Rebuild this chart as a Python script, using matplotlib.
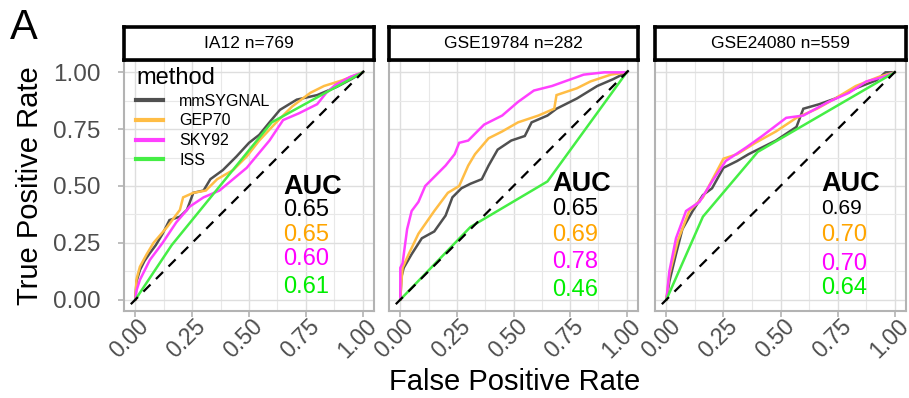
import matplotlib
matplotlib.use("Agg")
import matplotlib.pyplot as plt
from matplotlib.transforms import ScaledTranslation

plt.rcParams['font.family'] = ['Liberation Sans', 'DejaVu Sans']

# ---- data ----
methods = ["mmSYGNAL", "GEP70", "SKY92", "ISS"]
panel_titles = ["IA12 n=769", "GSE19784 n=282", "GSE24080 n=559"]

# IA12
ia12_mmsygnal_fpr = [0, 0.005, 0.02, 0.04, 0.064, 0.09, 0.12, 0.15, 0.196, 0.227, 0.255, 0.30, 0.33, 0.385, 0.445, 0.50, 0.545, 0.59, 0.636, 0.71, 0.80, 0.886, 0.95, 1.0]
ia12_mmsygnal_tpr = [0, 0.08, 0.13, 0.17, 0.205, 0.24, 0.29, 0.35, 0.365, 0.395, 0.47, 0.48, 0.53, 0.57, 0.63, 0.69, 0.725, 0.78, 0.835, 0.88, 0.90, 0.936, 0.97, 1.0]
ia12_gep70_fpr = [0, 0.005, 0.02, 0.05, 0.08, 0.14, 0.196, 0.21, 0.255, 0.31, 0.36, 0.43, 0.49, 0.545, 0.62, 0.69, 0.77, 0.83, 0.91, 1.0]
ia12_gep70_tpr = [0, 0.09, 0.145, 0.20, 0.25, 0.32, 0.395, 0.45, 0.47, 0.48, 0.53, 0.57, 0.63, 0.70, 0.78, 0.85, 0.91, 0.94, 0.965, 1.0]
ia12_sky92_fpr = [0, 0.005, 0.02, 0.064, 0.12, 0.18, 0.24, 0.30, 0.37, 0.43, 0.49, 0.54, 0.59, 0.65, 0.72, 0.80, 0.84, 0.88, 0.945, 1.0]
ia12_sky92_tpr = [0, 0.04, 0.087, 0.175, 0.25, 0.34, 0.41, 0.45, 0.48, 0.53, 0.58, 0.64, 0.70, 0.79, 0.82, 0.86, 0.91, 0.945, 0.98, 1.0]
ia12_iss_fpr = [0, 0.16, 0.60, 1.0]
ia12_iss_tpr = [0, 0.24, 0.78, 1.0]
ia12_auc = ["0.65", "0.65", "0.60", "0.61"]

# GSE19784
gse19784_mmsygnal_fpr = [0, 0.005, 0.015, 0.05, 0.095, 0.15, 0.20, 0.23, 0.27, 0.31, 0.36, 0.39, 0.43, 0.49, 0.55, 0.58, 0.65, 0.69, 0.78, 0.87, 0.94, 1.0]
gse19784_mmsygnal_tpr = [0, 0.10, 0.14, 0.20, 0.27, 0.30, 0.37, 0.45, 0.49, 0.51, 0.53, 0.59, 0.66, 0.70, 0.72, 0.78, 0.81, 0.84, 0.885, 0.94, 0.97, 1.0]
gse19784_gep70_fpr = [0, 0.005, 0.01, 0.037, 0.08, 0.15, 0.21, 0.26, 0.30, 0.33, 0.39, 0.45, 0.52, 0.61, 0.68, 0.69, 0.78, 0.84, 0.93, 1.0]
gse19784_gep70_tpr = [0, 0.08, 0.14, 0.20, 0.29, 0.39, 0.47, 0.50, 0.59, 0.64, 0.71, 0.74, 0.78, 0.81, 0.84, 0.90, 0.93, 0.96, 0.99, 1.0]
gse19784_sky92_fpr = [0, 0, 0.01, 0.03, 0.05, 0.08, 0.11, 0.14, 0.2, 0.24, 0.26, 0.30, 0.37, 0.45, 0.52, 0.59, 0.67, 0.74, 0.81, 0.90, 1.0]
gse19784_sky92_tpr = [0, 0.14, 0.16, 0.31, 0.39, 0.43, 0.50, 0.53, 0.59, 0.64, 0.69, 0.70, 0.77, 0.81, 0.87, 0.92, 0.94, 0.965, 0.99, 1.0, 1.0]
gse19784_iss_fpr = [0, 0.31, 0.65, 1.0]
gse19784_iss_tpr = [0, 0.32, 0.52, 1.0]
gse19784_auc = ["0.65", "0.69", "0.78", "0.46"]

# GSE24080
gse24080_mmsygnal_fpr = [0, 0.013, 0.042, 0.07, 0.115, 0.16, 0.20, 0.25, 0.31, 0.36, 0.42, 0.48, 0.57, 0.60, 0.67, 0.74, 0.83, 0.92, 0.96, 1.0]
gse24080_mmsygnal_tpr = [0, 0.08, 0.20, 0.31, 0.39, 0.46, 0.49, 0.58, 0.61, 0.64, 0.67, 0.70, 0.76, 0.84, 0.86, 0.885, 0.93, 0.965, 1.0, 1.0]
gse24080_gep70_fpr = [0, 0.013, 0.05, 0.10, 0.16, 0.25, 0.31, 0.39, 0.48, 0.57, 0.66, 0.74, 0.83, 0.93, 1.0]
gse24080_gep70_tpr = [0, 0.11, 0.26, 0.39, 0.45, 0.62, 0.64, 0.69, 0.74, 0.80, 0.84, 0.885, 0.94, 0.98, 1.0]
gse24080_sky92_fpr = [0, 0.013, 0.042, 0.086, 0.145, 0.20, 0.26, 0.35, 0.42, 0.525, 0.60, 0.71, 0.80, 0.876, 0.95, 1.0]
gse24080_sky92_tpr = [0, 0.125, 0.27, 0.39, 0.43, 0.52, 0.61, 0.67, 0.72, 0.80, 0.81, 0.87, 0.91, 0.96, 0.98, 1.0]
gse24080_iss_fpr = [0, 0.16, 0.40, 1.0]
gse24080_iss_tpr = [0, 0.365, 0.65, 1.0]
gse24080_auc = ["0.69", "0.70", "0.70", "0.64"]

ticks = [0, 0.25, 0.5, 0.75, 1.0]
tick_labels = ["0.00", "0.25", "0.50", "0.75", "1.00"]

# ---- styling ----
line_colors = ["#505050", "#FFBD45", "#FF40FF", "#45EE45"]
text_colors = ["black", "#FFA500", "#FF00FF", "#00EE00"]
grey_txt = "#4D4D4D"
W, H = 909, 398

panels = [
    (ia12_mmsygnal_fpr, ia12_mmsygnal_tpr, ia12_gep70_fpr, ia12_gep70_tpr,
     ia12_sky92_fpr, ia12_sky92_tpr, ia12_iss_fpr, ia12_iss_tpr),
    (gse19784_mmsygnal_fpr, gse19784_mmsygnal_tpr, gse19784_gep70_fpr, gse19784_gep70_tpr,
     gse19784_sky92_fpr, gse19784_sky92_tpr, gse19784_iss_fpr, gse19784_iss_tpr),
    (gse24080_mmsygnal_fpr, gse24080_mmsygnal_tpr, gse24080_gep70_fpr, gse24080_gep70_tpr,
     gse24080_sky92_fpr, gse24080_sky92_tpr, gse24080_iss_fpr, gse24080_iss_tpr),
]
aucs = [ia12_auc, gse19784_auc, gse24080_auc]

# label positions (x, y of "AUC" and the four values) per panel
auc_x = [0.65, 0.67, 0.68]
auc_y = [[0.496, 0.395, 0.285, 0.18, 0.057],
         [0.51, 0.40, 0.285, 0.167, 0.044],
         [0.51, 0.40, 0.285, 0.158, 0.053]]

panel_left = [124, 389, 655]
panel_width = [250, 249, 251]
top, bottom = 61, 311

fig = plt.figure(figsize=(W / 100, H / 100), dpi=100)

for i in range(3):
    l = panel_left[i] / W
    w = panel_width[i] / W
    ax = fig.add_axes([l, 1 - bottom / H, w, (bottom - top) / H])
    ax.set_xlim(-0.05, 1.05)
    ax.set_ylim(-0.05, 1.05)

    ax.set_xticks(ticks)
    ax.set_xticks([0.125, 0.375, 0.625, 0.875], minor=True)
    ax.set_yticks(ticks)
    ax.set_yticks([0.125, 0.375, 0.625, 0.875], minor=True)
    ax.grid(which='major', color='#DEDEDE', lw=1.0)
    ax.grid(which='minor', color='#E8E8E8', lw=0.8)
    ax.set_axisbelow(True)
    for s in ax.spines.values():
        s.set_color('#B3B3B3')
        s.set_linewidth(1.5)
    ax.tick_params(which='minor', length=0)
    ax.tick_params(which='major', length=4, width=1.2, color='#B3B3B3',
                   labelcolor=grey_txt)
    ax.tick_params(axis='x', pad=1)
    ax.set_xticklabels(tick_labels, rotation=45, ha='right', va='top',
                       rotation_mode='anchor', fontsize=16.5, color=grey_txt)
    for lab in ax.get_xticklabels():
        lab.set_transform(lab.get_transform() +
                          ScaledTranslation(1.5 / 72, 2.5 / 72, fig.dpi_scale_trans))
    if i == 0:
        ax.set_yticklabels(tick_labels, fontsize=17.5, color=grey_txt)
        ax.tick_params(axis='y', pad=13)
    else:
        ax.set_yticklabels([])
        ax.tick_params(axis='y', length=0)

    d = panels[i]
    handles = []
    for m in range(4):
        h, = ax.plot(d[2 * m], d[2 * m + 1], color=line_colors[m], lw=1.8,
                     label=methods[m], solid_joinstyle='miter')
        handles.append(h)
    ax.plot([-0.02, 1.02], [-0.02, 1.02], color='black', lw=1.6,
            dashes=(4.5, 3.5))

    ax.text(auc_x[i], auc_y[i][0], "AUC", fontsize=19.5, fontweight='bold',
            ha='left', va='center')
    for m in range(4):
        fs = 15 if (i == 2 and m == 0) else 17
        ax.text(auc_x[i], auc_y[i][m + 1], aucs[i][m], fontsize=fs,
                color=text_colors[m], ha='left', va='center')

    if i == 0:
        leg = ax.legend(handles=handles, title="method", loc='upper left',
                        bbox_to_anchor=(0.01, 1.015), frameon=False, fontsize=11.5,
                        title_fontsize=17, handlelength=1.7, handletextpad=1.0,
                        labelspacing=0.3, borderpad=0.1, alignment='left')
        for lh in leg.legend_handles:
            lh.set_linewidth(3)

    # facet strip
    sax = fig.add_axes([l, 1 - 60 / H, w, 33 / H])
    sax.set_xticks([])
    sax.set_yticks([])
    for s in sax.spines.values():
        s.set_color('black')
        s.set_linewidth(2.6)
    sax.text(0.5, 0.5, panel_titles[i], fontsize=12.5, ha='center', va='center',
             transform=sax.transAxes)

fig.text(515 / W, 1 - 382 / H, "False Positive Rate", fontsize=21,
         ha='center', va='center')
fig.text(30 / W, 1 - 186 / H, "True Positive Rate", fontsize=21,
         rotation=90, ha='center', va='center')
fig.text(10 / W, 1 - 28 / H, "A", fontsize=30, ha='left', va='center')

fig.savefig("out.png", dpi=100)
